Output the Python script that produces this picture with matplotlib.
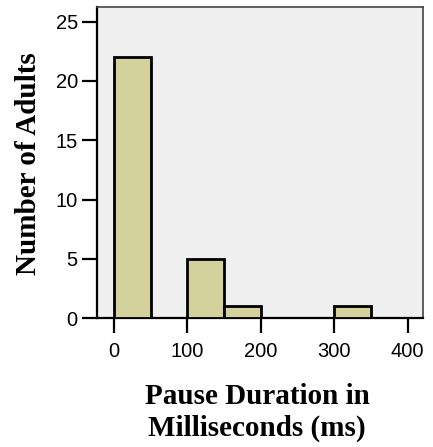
import numpy as np
import matplotlib
matplotlib.use('Agg')
import matplotlib.pyplot as plt

# 直方图数据：停顿时长分箱（毫秒）与人数
bin_edges = [0, 50, 100, 150, 200, 250, 300, 350, 400]
counts = [22, 0, 5, 1, 0, 0, 1, 0]
x_ticks = [0, 100, 200, 300, 400]
y_ticks = [0, 5, 10, 15, 20, 25]

fig = plt.figure(figsize=(4.33, 4.47), dpi=100)
ax = fig.add_axes([0.2247, 0.2879, 0.9776 - 0.2247, 0.9837 - 0.2879])
ax.set_facecolor('#f0f0f0')

widths = np.diff(bin_edges)
ax.bar(bin_edges[:-1], counts, width=widths, align='edge',
       color='#d3d29d', edgecolor='black', linewidth=2.0, zorder=3)

ax.set_xlim(-22.7, 421.5)
ax.set_ylim(0, 26.2)
ax.set_xticks(x_ticks)
ax.set_yticks(y_ticks)
ax.tick_params(axis='both', direction='out', length=11, width=1.6,
               labelsize=14.5, colors='black')
ax.tick_params(axis='x', pad=6)
ax.tick_params(axis='y', pad=3)
for lab in ax.get_xticklabels() + ax.get_yticklabels():
    lab.set_family('Liberation Sans')

ax.spines['left'].set_linewidth(1.6)
ax.spines['bottom'].set_linewidth(1.6)
ax.spines['top'].set_color('#444444')
ax.spines['right'].set_color('#444444')
ax.spines['top'].set_linewidth(1.2)
ax.spines['right'].set_linewidth(1.2)

fig.text(0.5935, 0.078, 'Pause Duration in\nMilliseconds (ms)', ha='center', va='center',
         fontsize=21, fontweight='bold', family='Liberation Serif', linespacing=1.22)
fig.text(0.0647, 0.635, 'Number of Adults', ha='center', va='center', rotation=90,
         fontsize=21, fontweight='bold', family='Liberation Serif')

fig.savefig('out.png', dpi=100)
